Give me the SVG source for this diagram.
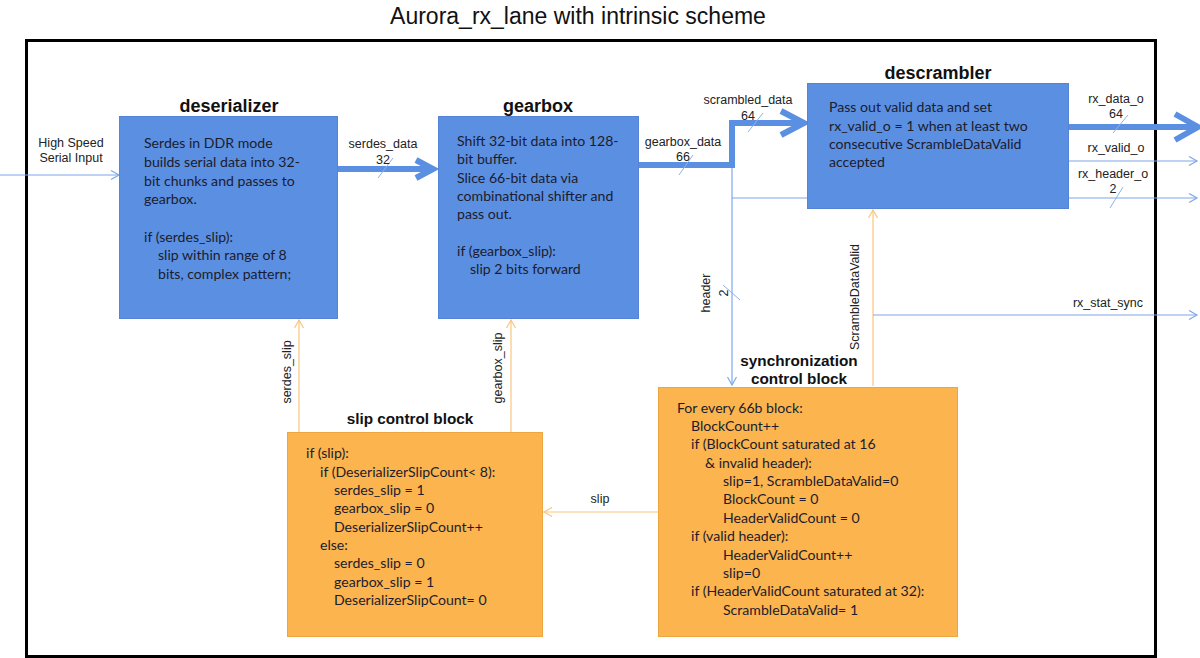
<svg xmlns="http://www.w3.org/2000/svg" width="1200" height="658" viewBox="0 0 1200 658">
<style>
.title{font-family:"Liberation Sans",Arial,sans-serif;font-size:23px;fill:#111}
.bt{font-family:"Liberation Sans",Arial,sans-serif;font-size:18px;font-weight:bold;fill:#111;text-anchor:middle}
.bs{font-size:15.3px}
.lbl{font-family:"Liberation Sans",Arial,sans-serif;font-size:12.5px;fill:#222}
.mid{text-anchor:middle}
.body{font-family:Lato,"Open Sans",sans-serif;font-size:14.1px;fill:#1c1c2c}
.blue{fill:#5b8fe2;stroke:#5584d6;stroke-width:1}
.orange{fill:#fbb44e;stroke:#eea640;stroke-width:1}
.thick{fill:none;stroke:#5b8fe2;stroke-width:6}
.tb{fill:none;stroke:#7ea8ea;stroke-width:1.2}
.to{fill:none;stroke:#f9c67e;stroke-width:1.2}
.tick{stroke:#8fb2ea;stroke-width:1}
</style>
<defs>
<marker id="ab" markerUnits="userSpaceOnUse" markerWidth="12" markerHeight="12" refX="9" refY="5" orient="auto"><path d="M1,0.5 L9,5 L1,9.5" fill="none" stroke="#7ea8ea" stroke-width="1.2"/></marker>
<marker id="ao" markerUnits="userSpaceOnUse" markerWidth="12" markerHeight="12" refX="9" refY="5" orient="auto"><path d="M1,0.5 L9,5 L1,9.5" fill="none" stroke="#f9c67e" stroke-width="1.2"/></marker>
</defs>
<rect x="0" y="0" width="1200" height="658" fill="#fff"/>
<text class="title" x="578" y="24" text-anchor="middle">Aurora_rx_lane with intrinsic scheme</text>
<rect x="26.5" y="40.5" width="1129" height="616" fill="none" stroke="#000" stroke-width="3"/>

<g id="connectors">
<line class="tb" x1="0" y1="175" x2="119" y2="175" marker-end="url(#ab)"/>
<line class="thick" x1="338" y1="169" x2="430" y2="169"/>
<polyline class="thick" points="416,160 433,169 416,178"/>
<line class="tick" x1="378" y1="178" x2="393" y2="158"/>
<polyline class="thick" stroke-width="7" points="639,165 732,165 732,123 800,123"/>
<polyline class="thick" stroke-width="7" points="781,111 804,123 781,135"/>
<line class="tick" x1="679" y1="175" x2="693" y2="155"/>
<line class="tick" x1="748" y1="132" x2="763" y2="113"/>
<line class="tb" x1="732" y1="168" x2="732" y2="385" marker-end="url(#ab)"/>
<line class="tb" x1="732" y1="198" x2="807" y2="198"/>
<line class="tick" x1="723" y1="285" x2="740" y2="300"/>
<line class="to" x1="873" y1="386" x2="873" y2="210" marker-end="url(#ao)"/>
<line class="tb" x1="873" y1="315" x2="1197" y2="315" marker-end="url(#ab)"/>
<line class="thick" stroke-width="7" x1="1069" y1="127" x2="1194" y2="127"/>
<polyline class="thick" stroke-width="7" points="1175,114 1198,127 1175,140"/>
<line class="tick" x1="1113" y1="133" x2="1128" y2="115"/>
<line class="tb" x1="1069" y1="161" x2="1197" y2="161" marker-end="url(#ab)"/>
<line class="tb" x1="1069" y1="198" x2="1197" y2="198" marker-end="url(#ab)"/>
<line class="tick" x1="1110" y1="208" x2="1123" y2="187"/>
<line class="to" x1="299" y1="432" x2="299" y2="320" marker-end="url(#ao)"/>
<line class="to" x1="511" y1="432" x2="511" y2="320" marker-end="url(#ao)"/>
<line class="to" x1="658" y1="512" x2="544" y2="512" marker-end="url(#ao)"/>
<text class="lbl" x="71" y="147" text-anchor="middle">High Speed</text>
<text class="lbl" x="71" y="162" text-anchor="middle">Serial Input</text>
<text class="lbl mid" x="383" y="148">serdes_data</text>
<text class="lbl mid" x="383" y="164">32</text>
<text class="lbl mid" x="683" y="146">gearbox_data</text>
<text class="lbl mid" x="683" y="161">66</text>
<text class="lbl mid" x="748" y="104">scrambled_data</text>
<text class="lbl mid" x="748" y="120">64</text>
<text class="lbl mid" x="1116" y="103">rx_data_o</text>
<text class="lbl mid" x="1116" y="118">64</text>
<text class="lbl mid" x="1116" y="152">rx_valid_o</text>
<text class="lbl mid" x="1113" y="178">rx_header_o</text>
<text class="lbl mid" x="1113" y="193">2</text>
<text class="lbl mid" x="1108" y="307">rx_stat_sync</text>
<text class="lbl mid" x="600" y="503" font-size="14">slip</text>
<text class="lbl mid" transform="translate(710,293) rotate(-90)" font-size="15">header</text>
<text class="lbl mid" transform="translate(728,293) rotate(-90)" font-size="15">2</text>
<text class="lbl mid" transform="translate(859,297) rotate(-90)">ScrambleDataValid</text>
<text class="lbl mid" transform="translate(291,372) rotate(-90)">serdes_slip</text>
<text class="lbl mid" transform="translate(502,368) rotate(-90)">gearbox_slip</text>
</g>

<g id="deserializer">
<text class="bt" x="229" y="112">deserializer</text>
<rect class="blue" x="119.5" y="116.5" width="218" height="202"/>
<text class="body" x="144" y="148">Serdes in DDR mode</text>
<text class="body" x="144" y="167">builds serial data into 32-</text>
<text class="body" x="144" y="186">bit chunks and passes to</text>
<text class="body" x="144" y="204">gearbox.</text>
<text class="body" x="144" y="242">if (serdes_slip):</text>
<text class="body" x="158" y="260">slip within range of 8</text>
<text class="body" x="158" y="279">bits, complex pattern;</text>
</g>

<g id="gearbox">
<text class="bt" x="538" y="112">gearbox</text>
<rect class="blue" x="438.5" y="116.5" width="200" height="202"/>
<text class="body" x="457" y="146">Shift 32-bit data into 128-</text>
<text class="body" x="457" y="164">bit buffer.</text>
<text class="body" x="457" y="183">Slice 66-bit data via</text>
<text class="body" x="457" y="201">combinational shifter and</text>
<text class="body" x="457" y="219">pass out.</text>
<text class="body" x="457" y="256">if (gearbox_slip):</text>
<text class="body" x="470" y="274">slip 2 bits forward</text>
</g>

<g id="descrambler">
<text class="bt" x="938" y="79">descrambler</text>
<rect class="blue" x="807.5" y="83.5" width="261" height="125"/>
<text class="body" x="829" y="112">Pass out valid data and set</text>
<text class="body" x="829" y="131">rx_valid_o = 1 when at least two</text>
<text class="body" x="829" y="149">consecutive ScrambleDataValid</text>
<text class="body" x="829" y="167">accepted</text>
</g>

<g id="slip_control">
<text class="bt bs" x="410" y="424">slip control block</text>
<rect class="orange" x="287.5" y="432.5" width="255" height="204"/>
<text class="body" x="306" y="458">if (slip):</text>
<text class="body" x="320" y="477">if (DeserializerSlipCount&lt; 8):</text>
<text class="body" x="334" y="495">serdes_slip = 1</text>
<text class="body" x="334" y="513">gearbox_slip = 0</text>
<text class="body" x="334" y="532">DeserializerSlipCount++</text>
<text class="body" x="320" y="550">else:</text>
<text class="body" x="334" y="568">serdes_slip = 0</text>
<text class="body" x="334" y="587">gearbox_slip = 1</text>
<text class="body" x="334" y="605">DeserializerSlipCount= 0</text>
</g>

<g id="sync_control">
<text class="bt bs" x="799" y="366">synchronization</text>
<text class="bt bs" x="799" y="384">control block</text>
<rect class="orange" x="658.5" y="387.5" width="299" height="249"/>
<text class="body" x="677" y="413">For every 66b block:</text>
<text class="body" x="691" y="431">BlockCount++</text>
<text class="body" x="691" y="449">if (BlockCount saturated at 16</text>
<text class="body" x="705" y="468">&amp; invalid header):</text>
<text class="body" x="723" y="486">slip=1, ScrambleDataValid=0</text>
<text class="body" x="723" y="504">BlockCount = 0</text>
<text class="body" x="723" y="523">HeaderValidCount = 0</text>
<text class="body" x="691" y="541">if (valid header):</text>
<text class="body" x="723" y="560">HeaderValidCount++</text>
<text class="body" x="723" y="578">slip=0</text>
<text class="body" x="691" y="596">if (HeaderValidCount saturated at 32):</text>
<text class="body" x="723" y="615">ScrambleDataValid= 1</text>
</g>
</svg>
